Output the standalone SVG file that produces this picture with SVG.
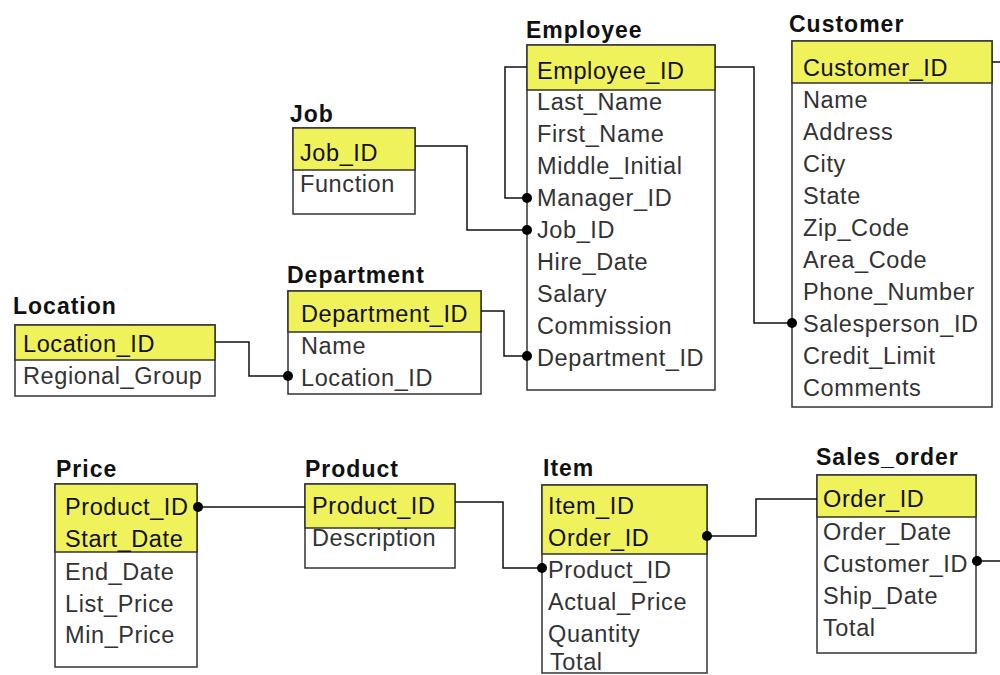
<svg xmlns="http://www.w3.org/2000/svg" width="1000" height="675" viewBox="0 0 1000 675">
<style>
.box{fill:#fff;stroke:#333;stroke-width:1.5}
.key{fill:#f0f25c;stroke:#333;stroke-width:1.5}
.ttl{font-family:"Liberation Sans",Arial,sans-serif;font-size:23px;font-weight:bold;fill:#111;letter-spacing:1px}
.k{font-family:"Liberation Sans",Arial,sans-serif;font-size:23.5px;fill:#111;letter-spacing:0.6px}
.f{font-family:"Liberation Sans",Arial,sans-serif;font-size:23.5px;fill:#333;letter-spacing:0.6px}
.c{fill:none;stroke:#111;stroke-width:1.5}
.dot{fill:#000}
</style>
<g id="employee">
<text class="ttl" x="526" y="38">Employee</text>
<rect class="box" x="527" y="45" width="188" height="345"/>
<rect class="key" x="527" y="45" width="188" height="45"/>
<text class="k" x="537" y="79">Employee_ID</text>
<text class="f" x="537" y="110">Last_Name</text>
<text class="f" x="537" y="142">First_Name</text>
<text class="f" x="537" y="174">Middle_Initial</text>
<text class="f" x="537" y="206">Manager_ID</text>
<text class="f" x="537" y="238">Job_ID</text>
<text class="f" x="537" y="270">Hire_Date</text>
<text class="f" x="537" y="302">Salary</text>
<text class="f" x="537" y="334">Commission</text>
<text class="f" x="537" y="366">Department_ID</text>
</g>
<g id="customer">
<text class="ttl" x="789" y="32">Customer</text>
<rect class="box" x="792" y="41" width="200" height="366"/>
<rect class="key" x="792" y="41" width="200" height="42"/>
<text class="k" x="803" y="76">Customer_ID</text>
<text class="f" x="803" y="108">Name</text>
<text class="f" x="803" y="140">Address</text>
<text class="f" x="803" y="172">City</text>
<text class="f" x="803" y="204">State</text>
<text class="f" x="803" y="236">Zip_Code</text>
<text class="f" x="803" y="268">Area_Code</text>
<text class="f" x="803" y="300">Phone_Number</text>
<text class="f" x="803" y="332">Salesperson_ID</text>
<text class="f" x="803" y="364">Credit_Limit</text>
<text class="f" x="803" y="396">Comments</text>
</g>
<g id="job">
<text class="ttl" x="290" y="122">Job</text>
<rect class="box" x="293" y="128" width="122" height="86"/>
<rect class="key" x="293" y="128" width="122" height="42"/>
<text class="k" x="300" y="161">Job_ID</text>
<text class="f" x="300" y="192">Function</text>
</g>
<g id="department">
<text class="ttl" x="287" y="283">Department</text>
<rect class="box" x="288" y="291" width="193" height="103"/>
<rect class="key" x="288" y="291" width="193" height="41"/>
<text class="k" x="301" y="322">Department_ID</text>
<text class="f" x="301" y="354">Name</text>
<text class="f" x="301" y="386">Location_ID</text>
</g>
<g id="location">
<text class="ttl" x="13" y="314">Location</text>
<rect class="box" x="15" y="325" width="200" height="71"/>
<rect class="key" x="15" y="325" width="200" height="35"/>
<text class="k" x="23" y="352">Location_ID</text>
<text class="f" x="23" y="384">Regional_Group</text>
</g>
<g id="price">
<text class="ttl" x="56" y="477">Price</text>
<rect class="box" x="55" y="484" width="142" height="183"/>
<rect class="key" x="55" y="484" width="142" height="68"/>
<text class="k" x="65" y="515">Product_ID</text>
<text class="k" x="65" y="547">Start_Date</text>
<text class="f" x="65" y="580">End_Date</text>
<text class="f" x="65" y="612">List_Price</text>
<text class="f" x="65" y="643">Min_Price</text>
</g>
<g id="product">
<text class="ttl" x="305" y="477">Product</text>
<rect class="box" x="305" y="484" width="150" height="84"/>
<rect class="key" x="305" y="484" width="150" height="44"/>
<text class="k" x="312" y="514">Product_ID</text>
<text class="f" x="312" y="546">Description</text>
</g>
<g id="item">
<text class="ttl" x="543" y="476">Item</text>
<rect class="box" x="542" y="485" width="165" height="188"/>
<rect class="key" x="542" y="485" width="165" height="69"/>
<text class="k" x="548" y="514">Item_ID</text>
<text class="k" x="548" y="546">Order_ID</text>
<text class="f" x="548" y="578">Product_ID</text>
<text class="f" x="548" y="610">Actual_Price</text>
<text class="f" x="548" y="642">Quantity</text>
<text class="f" x="550" y="670">Total</text>
</g>
<g id="sales_order">
<text class="ttl" x="816" y="465">Sales_order</text>
<rect class="box" x="817" y="475" width="159" height="178"/>
<rect class="key" x="817" y="475" width="159" height="42"/>
<text class="k" x="823" y="507">Order_ID</text>
<text class="f" x="823" y="540">Order_Date</text>
<text class="f" x="823" y="572">Customer_ID</text>
<text class="f" x="823" y="604">Ship_Date</text>
<text class="f" x="823" y="636">Total</text>
</g>
<g id="connectors">
<polyline class="c" points="527,67 505,67 505,198 527,198"/>
<circle class="dot" cx="527" cy="198" r="5"/>
<polyline class="c" points="415,146 467,146 467,230 527,230"/>
<circle class="dot" cx="527" cy="230" r="5"/>
<polyline class="c" points="715,67 754,67 754,323 792,323"/>
<circle class="dot" cx="792" cy="323" r="5"/>
<polyline class="c" points="481,311 504,311 504,356 527,356"/>
<circle class="dot" cx="527" cy="356" r="5"/>
<polyline class="c" points="215,342 249,342 249,376 288,376"/>
<circle class="dot" cx="288" cy="376" r="5"/>
<polyline class="c" points="197,507 305,507"/>
<circle class="dot" cx="198" cy="507" r="5"/>
<polyline class="c" points="455,502 503,502 503,568 542,568"/>
<circle class="dot" cx="542" cy="568" r="5"/>
<polyline class="c" points="707,536 756,536 756,499 817,499"/>
<circle class="dot" cx="707" cy="536" r="5"/>
<polyline class="c" points="976,561 1000,561"/>
<circle class="dot" cx="977" cy="561" r="5"/>
<polyline class="c" points="992,62 1000,62"/>
</g>
</svg>
